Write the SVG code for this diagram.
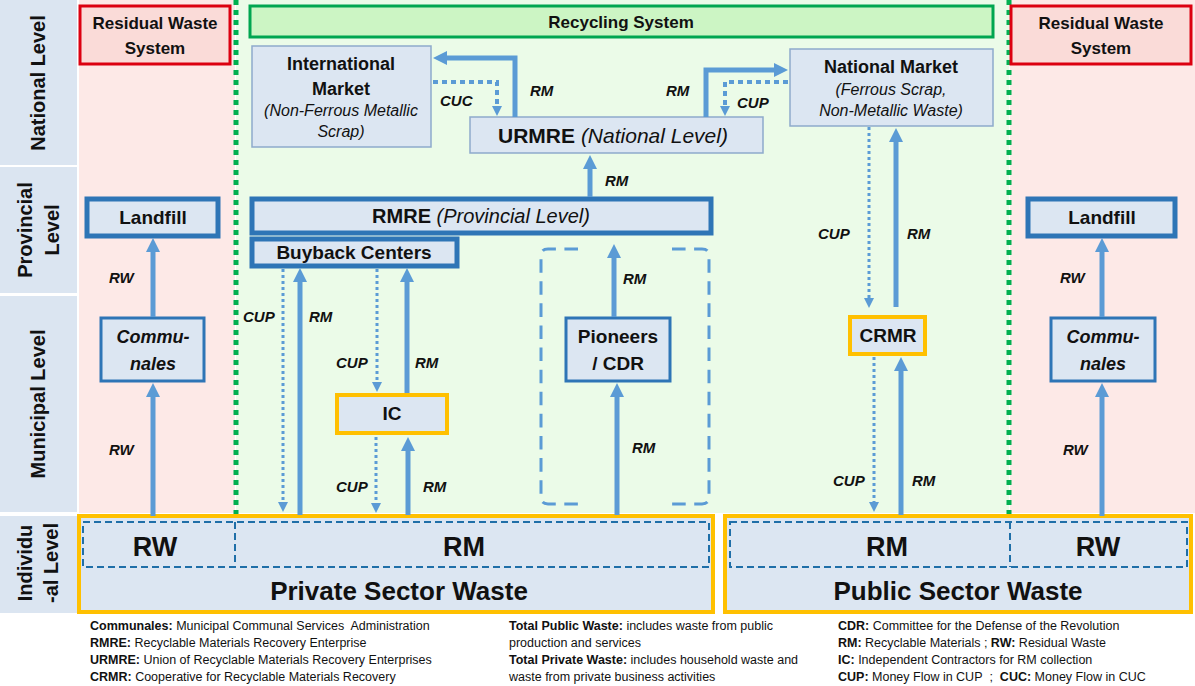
<svg xmlns="http://www.w3.org/2000/svg" width="1195" height="686" viewBox="0 0 1195 686">
<style>
text{font-family:"Liberation Sans",Arial,sans-serif;fill:#111;}
.b{font-weight:bold;}
.i{font-style:italic;}
.lvl{font-weight:bold;font-size:20px;text-anchor:middle;}
.n16{font-size:17px;font-weight:bold;text-anchor:middle;}
.n18{font-size:18px;font-weight:bold;text-anchor:middle;}
.it16{font-size:16px;font-style:italic;text-anchor:middle;}
.nd{font-size:19px;font-weight:bold;text-anchor:middle;}
.lab{font-size:15px;font-weight:bold;font-style:italic;}
.big{font-size:27px;font-weight:bold;text-anchor:middle;}
.big2{font-size:26px;font-weight:bold;text-anchor:middle;}
.leg{font-size:12.5px;}
.node{fill:#dce6f2;}
.thin{stroke:#8eaacb;stroke-width:1.5;}
.thick{stroke:#2e75b6;stroke-width:5;}
.med{stroke:#2e75b6;stroke-width:3;}
.yel{stroke:#ffc000;stroke-width:4;}
.red{fill:#fadbd8;stroke:#dc0010;stroke-width:3;}
.sol{fill:none;stroke:#5b9bd5;stroke-width:5;}
.dot{fill:none;stroke:#5b9bd5;stroke-width:3;stroke-dasharray:3 3;}
.dotb{fill:none;stroke:#5b9bd5;stroke-width:4;stroke-dasharray:5 4;}
.inner{fill:none;stroke:#1f6fa8;stroke-width:2;stroke-dasharray:7 4;}
.brk{fill:none;stroke:#5b9bd5;stroke-width:3;stroke-dasharray:4.2 2.64;}
.gdiv{stroke:#00b050;stroke-width:5;stroke-dasharray:5 5;}
</style>
<defs>
<marker id="ah" markerUnits="userSpaceOnUse" markerWidth="14" markerHeight="14" viewBox="0 0 14 14" refX="4" refY="7" orient="auto"><path d="M0,0 L14,7 L0,14 z" fill="#5b9bd5"/></marker>
<marker id="ahd" markerUnits="userSpaceOnUse" markerWidth="10" markerHeight="10" viewBox="0 0 10 10" refX="2" refY="5" orient="auto"><path d="M0,0 L10,5 L0,10 z" fill="#5b9bd5"/></marker>
</defs>
<rect width="1195" height="686" fill="#ffffff"/>
<g id="backgrounds">
<rect x="79" y="0" width="156" height="513" fill="#fde9e7"/>
<rect x="236" y="0" width="773" height="513" fill="#ebfbe8"/>
<rect x="1010" y="0" width="185" height="513" fill="#fde9e7"/>
</g>
<g id="levels">
<rect x="0" y="0" width="77" height="165" fill="#dbe5f1"/>
<rect x="0" y="167" width="77" height="126" fill="#dbe5f1"/>
<rect x="0" y="296" width="77" height="216" fill="#dbe5f1"/>
<rect x="0" y="516" width="77" height="97" fill="#dbe5f1"/>
<text class="lvl" transform="translate(45,83) rotate(-90)">National Level</text>
<text class="lvl" transform="translate(32,230) rotate(-90)">Provincial</text>
<text class="lvl" transform="translate(59,230) rotate(-90)">Level</text>
<text class="lvl" transform="translate(45,404) rotate(-90)">Municipal Level</text>
<text class="lvl" transform="translate(32,563) rotate(-90)">Individu</text>
<text class="lvl" transform="translate(58,563) rotate(-90)">-al Level</text>
</g>
<g id="dividers">
<line class="gdiv" x1="236" y1="0" x2="236" y2="515"/>
<line class="gdiv" x1="1009" y1="0" x2="1009" y2="520"/>
</g>
<g id="rws-left">
<rect class="red" x="80" y="6" width="150" height="58"/>
<text class="n16" x="155" y="29">Residual Waste</text>
<text class="n16" x="155" y="54">System</text>
</g>
<g id="rws-right">
<rect class="red" x="1011" y="6" width="180" height="58"/>
<text class="n16" x="1101" y="29">Residual Waste</text>
<text class="n16" x="1101" y="54">System</text>
</g>
<g id="recycling">
<rect x="250" y="6" width="743" height="31" fill="#ccf5c4" stroke="#00a650" stroke-width="3"/>
<text class="n16" x="621" y="28">Recycling System</text>
</g>
<g id="intl-market">
<rect class="node thin" x="252" y="46" width="179" height="101"/>
<text class="n18" x="341" y="70">International</text>
<text class="n18" x="341" y="95">Market</text>
<text class="it16" x="341" y="116">(Non-Ferrous Metallic</text>
<text class="it16" x="341" y="137">Scrap)</text>
</g>
<g id="urmre">
<rect class="node thin" x="470" y="117" width="293" height="36"/>
<text x="613" y="143" font-size="21" text-anchor="middle"><tspan class="b">URMRE </tspan><tspan class="i">(National Level)</tspan></text>
</g>
<g id="natl-market">
<rect class="node thin" x="790" y="49" width="203" height="77"/>
<text class="n18" x="891" y="73">National Market</text>
<text class="it16" x="891" y="95">(Ferrous Scrap,</text>
<text class="it16" x="891" y="116">Non-Metallic Waste)</text>
</g>
<g id="rmre">
<rect class="node thick" x="252" y="199" width="459" height="34"/>
<text x="481" y="223" font-size="20" text-anchor="middle"><tspan class="b">RMRE </tspan><tspan class="i">(Provincial Level)</tspan></text>
</g>
<g id="buyback">
<rect class="node thick" x="252" y="239" width="205" height="27"/>
<text class="nd" x="354" y="259">Buyback Centers</text>
</g>
<g id="ic">
<rect class="node yel" x="337" y="395" width="110" height="38"/>
<text class="nd" x="392" y="420">IC</text>
</g>
<g id="pioneers">
<path class="brk" pathLength="100" d="M578,249 L548,249 Q541,249 541,256 L541,497 Q541,504 548,504 L578,504"/>
<path class="brk" pathLength="100" d="M672,249 L702,249 Q709,249 709,256 L709,497 Q709,504 702,504 L672,504"/>
<rect class="node med" x="566" y="318" width="104" height="63"/>
<text class="nd" x="618" y="343">Pioneers</text>
<text class="nd" x="618" y="370">/ CDR</text>
</g>
<g id="crmr">
<rect class="node yel" x="850" y="317" width="75" height="37"/>
<text class="nd" x="888" y="342">CRMR</text>
</g>
<g id="landfill-left">
<rect class="node thick" x="87" y="199" width="131" height="37"/>
<text class="nd" x="153" y="224">Landfill</text>
</g>
<g id="communales-left">
<rect class="node med" x="101" y="318" width="103" height="63"/>
<text x="153" y="343" font-size="18" class="b i" text-anchor="middle">Commu-</text>
<text x="153" y="370" font-size="18" class="b i" text-anchor="middle">nales</text>
</g>
<g id="landfill-right">
<rect class="node thick" x="1028" y="199" width="147" height="37"/>
<text class="nd" x="1102" y="224">Landfill</text>
</g>
<g id="communales-right">
<rect class="node med" x="1051" y="318" width="104" height="63"/>
<text x="1103" y="343" font-size="18" class="b i" text-anchor="middle">Commu-</text>
<text x="1103" y="370" font-size="18" class="b i" text-anchor="middle">nales</text>
</g>
<g id="private-waste">
<rect class="node yel" x="79" y="516" width="634" height="96"/>
<rect class="inner" x="83" y="522" width="626" height="45"/>
<line class="inner" x1="235" y1="522" x2="235" y2="567"/>
<text class="big" x="155" y="556">RW</text>
<text class="big" x="464" y="556">RM</text>
<text class="big2" x="399" y="600">Private Sector Waste</text>
</g>
<g id="public-waste">
<rect class="node yel" x="725" y="516" width="466" height="96"/>
<rect class="inner" x="730" y="522" width="457" height="45"/>
<line class="inner" x1="1010" y1="522" x2="1010" y2="567"/>
<text class="big" x="887" y="556">RM</text>
<text class="big" x="1098" y="556">RW</text>
<text class="big2" x="958" y="600">Public Sector Waste</text>
</g>
<g id="connectors">
<path class="sol" marker-end="url(#ah)" d="M515,117 L515,58 L443,58"/>
<path class="dotb" marker-end="url(#ahd)" d="M433,82 L497,82 L497,108"/>
<path class="sol" marker-end="url(#ah)" d="M706,117 L706,70 L778,70"/>
<path class="dotb" marker-end="url(#ahd)" d="M788,82 L725,82 L725,108"/>
<path class="sol" marker-end="url(#ah)" d="M590,197 L590,165"/>
<path class="dot" marker-end="url(#ahd)" d="M283,269 L283,504"/>
<path class="sol" marker-end="url(#ah)" d="M300,515 L300,278"/>
<path class="dot" marker-end="url(#ahd)" d="M377,269 L377,384"/>
<path class="sol" marker-end="url(#ah)" d="M407,393 L407,278"/>
<path class="dot" marker-end="url(#ahd)" d="M376,437 L376,505"/>
<path class="sol" marker-end="url(#ah)" d="M408,515 L408,447"/>
<path class="sol" marker-end="url(#ah)" d="M614,317 L614,254"/>
<path class="sol" marker-end="url(#ah)" d="M617,515 L617,393"/>
<path class="dot" marker-end="url(#ahd)" d="M869,127 L869,300"/>
<path class="sol" marker-end="url(#ah)" d="M896,307 L896,138"/>
<path class="dot" marker-end="url(#ahd)" d="M874,357 L874,504"/>
<path class="sol" marker-end="url(#ah)" d="M901,515 L901,367"/>
<path class="sol" marker-end="url(#ah)" d="M153,516 L153,393"/>
<path class="sol" marker-end="url(#ah)" d="M153,317 L153,248"/>
<path class="sol" marker-end="url(#ah)" d="M1102,516 L1102,393"/>
<path class="sol" marker-end="url(#ah)" d="M1102,317 L1102,248"/>
<text class="lab" x="440" y="106">CUC</text>
<text class="lab" x="530" y="96">RM</text>
<text class="lab" x="666" y="96">RM</text>
<text class="lab" x="737" y="108">CUP</text>
<text class="lab" x="605" y="186">RM</text>
<text class="lab" x="243" y="322">CUP</text>
<text class="lab" x="309" y="322">RM</text>
<text class="lab" x="336" y="368">CUP</text>
<text class="lab" x="415" y="368">RM</text>
<text class="lab" x="336" y="492">CUP</text>
<text class="lab" x="423" y="492">RM</text>
<text class="lab" x="623" y="284">RM</text>
<text class="lab" x="632" y="453">RM</text>
<text class="lab" x="818" y="239">CUP</text>
<text class="lab" x="907" y="239">RM</text>
<text class="lab" x="833" y="486">CUP</text>
<text class="lab" x="912" y="486">RM</text>
<text class="lab" x="109" y="283">RW</text>
<text class="lab" x="109" y="455">RW</text>
<text class="lab" x="1060" y="283">RW</text>
<text class="lab" x="1063" y="455">RW</text>
</g>
<g id="legend">
<text class="leg" x="90" y="630"><tspan class="b">Communales:</tspan> Municipal Communal Services&#160; Administration</text>
<text class="leg" x="90" y="647"><tspan class="b">RMRE:</tspan> Recyclable Materials Recovery Enterprise</text>
<text class="leg" x="90" y="664"><tspan class="b">URMRE:</tspan> Union of Recyclable Materials Recovery Enterprises</text>
<text class="leg" x="90" y="681"><tspan class="b">CRMR:</tspan> Cooperative for Recyclable Materials Recovery</text>
<text class="leg" x="509" y="630"><tspan class="b">Total Public Waste:</tspan> includes waste from public</text>
<text class="leg" x="509" y="647">production and services</text>
<text class="leg" x="509" y="664"><tspan class="b">Total Private Waste:</tspan> includes household waste and</text>
<text class="leg" x="509" y="681">waste from private business activities</text>
<text class="leg" x="838" y="630"><tspan class="b">CDR:</tspan> Committee for the Defense of the Revolution</text>
<text class="leg" x="838" y="647"><tspan class="b">RM:</tspan> Recyclable Materials ; <tspan class="b">RW:</tspan> Residual Waste</text>
<text class="leg" x="838" y="664"><tspan class="b">IC:</tspan> Independent Contractors for RM collection</text>
<text class="leg" x="838" y="681"><tspan class="b">CUP:</tspan> Money Flow in CUP&#160; ;&#160; <tspan class="b">CUC:</tspan> Money Flow in CUC</text>
</g>
</svg>
